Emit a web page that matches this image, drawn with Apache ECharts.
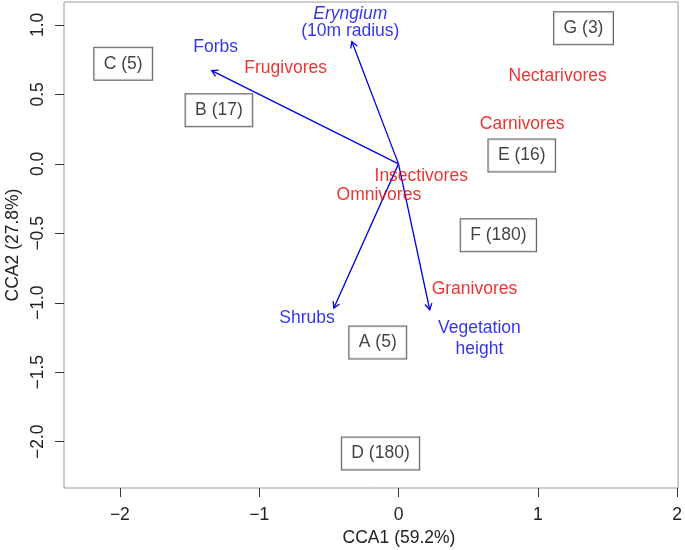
<!DOCTYPE html>
<html>
<head>
<meta charset="utf-8">
<script src="https://cdn.jsdelivr.net/npm/echarts@6/dist/echarts.min.js"></script>
<style>
html,body{margin:0;padding:0;background:#fff;}
#chart{width:685px;height:550px;}
</style>
</head>
<body>
<div id="chart"></div>
<script>
// Site scores (boxed labels)
var siteNames = ['A (5)', 'B (17)', 'C (5)', 'D (180)', 'E (16)', 'F (180)', 'G (3)'];
var siteX = [-0.149, -1.289, -1.976, -0.129, 0.885, 0.717, 1.328];
var siteY = [-1.286, 0.385, 0.721, -2.084, 0.061, -0.514, 0.976];

// Species (feeding guild) scores
var guildNames = ['Frugivores', 'Nectarivores', 'Carnivores', 'Insectivores', 'Omnivores', 'Granivores'];
var guildX = [-0.810, 1.142, 0.887, 0.163, -0.141, 0.545];
var guildY = [0.691, 0.628, 0.288, -0.091, -0.223, -0.899];

// Environmental vectors (arrow tips)
var envNames = ['Forbs', 'Eryngium', 'Shrubs', 'Vegetation height'];
var envX = [-1.341, -0.335, -0.464, 0.224];
var envY = [0.671, 0.880, -1.038, -1.050];
// Environmental vector label positions
var envLabelX = [-1.312, -0.346, -0.657, 0.581];
var envLabelY = [0.837, 1.015, -1.110, -1.258];

// Axis ticks
var xTicks = [-2, -1, 0, 1, 2];
var yTicks = [-2.0, -1.5, -1.0, -0.5, 0.0, 0.5, 1.0];
var xTitle = 'CCA1 (59.2%)';
var yTitle = 'CCA2 (27.8%)';

var RED = '#e60000';
var BLUE = '#0000e6';
var FONT = '"Liberation Sans", Arial, sans-serif';
var FS = 17.5;

function minusFmt(v, dec) {
  var s = dec ? Math.abs(v).toFixed(dec) : String(Math.abs(v));
  return (v < 0 ? '\u2212' : '') + s;
}

var chart = echarts.init(document.getElementById('chart'), null, {renderer: 'canvas'});

var siteData = siteNames.map(function (n, i) { return {name: n, value: [siteX[i], siteY[i]]}; });
var guildData = guildNames.map(function (n, i) { return {name: n, value: [guildX[i], guildY[i]]}; });
var envData = envNames.map(function (n, i) { return {name: n, value: [envX[i], envY[i]]}; });
var envLabelData = envNames.map(function (n, i) { return {name: n, value: [envLabelX[i], envLabelY[i]]}; });

var option = {
  animation: false,
  textStyle: {fontFamily: FONT},
  grid: {left: 64, right: 6, top: 2, bottom: 62, show: true, borderColor: '#9a9a9a', borderWidth: 1},
  xAxis: {
    type: 'value', min: -2.401, max: 2.007,
    axisLine: {show: false, onZero: false},
    splitLine: {show: false},
    axisTick: {show: true, length: 9, inside: false, customValues: xTicks, lineStyle: {color: '#333', width: 1}},
    axisLabel: {customValues: xTicks, margin: 18, fontSize: FS, color: '#222', fontFamily: FONT,
      formatter: function (v) { return minusFmt(v, 0); }}
  },
  yAxis: {
    type: 'value', min: -2.333, max: 1.165,
    axisLine: {show: false, onZero: false},
    splitLine: {show: false},
    axisTick: {show: true, length: 9, inside: false, customValues: yTicks, lineStyle: {color: '#333', width: 1}},
    axisLabel: {customValues: yTicks, margin: 17, fontSize: FS, color: '#222', rotate: 90, fontFamily: FONT,
      formatter: function (v) { return minusFmt(v, 1); }}
  },
  graphic: [
    {type: 'text', x: 399, y: 538, style: {text: xTitle, fill: '#222', font: FS + 'px ' + FONT, textAlign: 'center', textVerticalAlign: 'middle'}},
    {type: 'text', x: 13, y: 245, rotation: Math.PI / 2, style: {text: yTitle, fill: '#222', font: FS + 'px ' + FONT, textAlign: 'center', textVerticalAlign: 'middle'}}
  ],
  series: [
    {
      type: 'custom',
      silent: true,
      data: envData,
      renderItem: function (params, api) {
        var p0 = api.coord([0, 0]);
        var p1 = api.coord([api.value(0), api.value(1)]);
        var ang = Math.atan2(p1[1] - p0[1], p1[0] - p0[0]);
        var L = 7, a = Math.PI / 6;
        var h1 = [p1[0] - L * Math.cos(ang - a), p1[1] - L * Math.sin(ang - a)];
        var h2 = [p1[0] - L * Math.cos(ang + a), p1[1] - L * Math.sin(ang + a)];
        return {
          type: 'group',
          children: [
            {type: 'line', shape: {x1: p0[0], y1: p0[1], x2: p1[0], y2: p1[1]}, style: {stroke: BLUE, lineWidth: 1.3}},
            {type: 'polyline', shape: {points: [h1, p1, h2]}, style: {stroke: BLUE, lineWidth: 1.3, fill: null}}
          ]
        };
      }
    },
    {
      type: 'scatter', silent: true, symbolSize: 0, data: siteData,
      label: {show: true, position: 'inside', formatter: '{b}', color: '#111', fontSize: FS, fontFamily: FONT,
        borderColor: '#333', borderWidth: 1, padding: [7, 9.5, 7, 9.5], lineHeight: 18, backgroundColor: '#fff'}
    },
    {
      type: 'scatter', silent: true, symbolSize: 0, data: guildData,
      label: {show: true, position: 'inside', formatter: '{b}', color: RED, fontSize: FS, fontFamily: FONT}
    },
    {
      type: 'scatter', silent: true, symbolSize: 0, data: envLabelData,
      label: {show: true, position: 'inside', color: BLUE, fontSize: FS, fontFamily: FONT, lineHeight: 17, align: 'center',
        formatter: function (p) {
          if (p.name === 'Eryngium') return '{i|Eryngium}\n{n|(10m radius)}';
          if (p.name === 'Vegetation height') return '{v|Vegetation}\n{v|height}';
          return '{n|' + p.name + '}';
        },
        rich: {
          i: {fontStyle: 'italic', color: BLUE, fontSize: FS, fontFamily: FONT, lineHeight: 17, align: 'center'},
          n: {color: BLUE, fontSize: FS, fontFamily: FONT, lineHeight: 17, align: 'center'},
          v: {color: BLUE, fontSize: FS, fontFamily: FONT, lineHeight: 21, align: 'center'}
        }
      }
    }
  ]
};
chart.setOption(option);
</script>
</body>
</html>
